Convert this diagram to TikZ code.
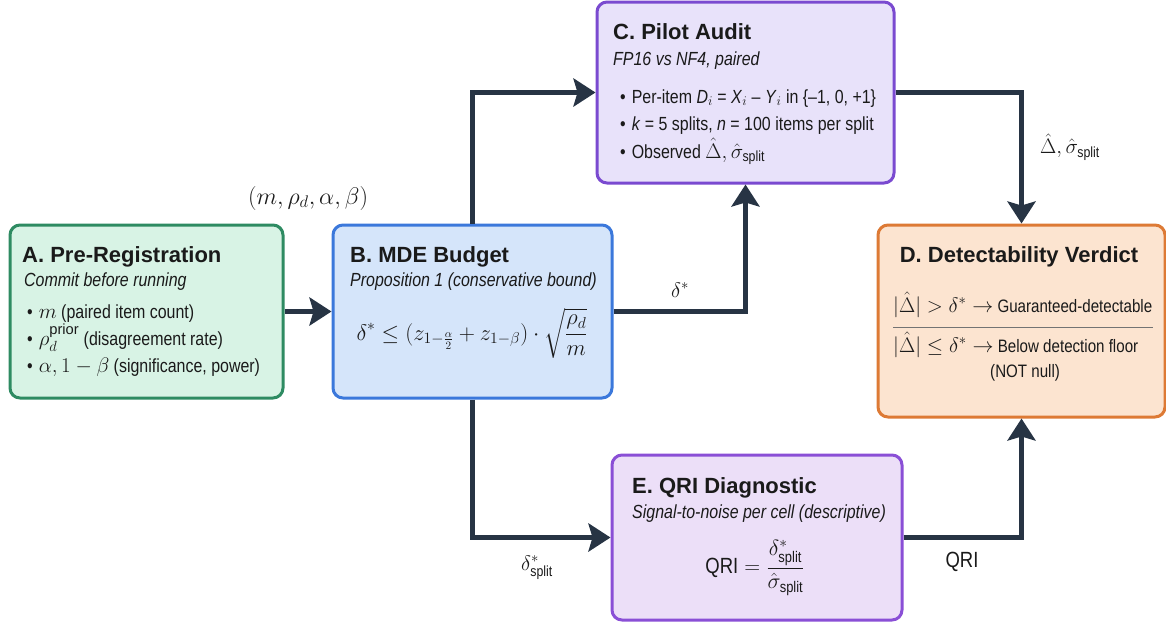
\documentclass[tikz,border=0pt]{standalone}
\usepackage{fix-cm}
\usepackage{amsmath}
\usepackage{fontspec}
\setmainfont{Liberation Sans}
\newfontfamily\narrow[FakeStretch=0.84,Ligatures=TeX]{Liberation Sans}
\usetikzlibrary{arrows.meta}
\definecolor{aline}{HTML}{2E8B62}
\definecolor{afill}{HTML}{D8F3E5}
\definecolor{bline}{HTML}{3B78DB}
\definecolor{bfill}{HTML}{D5E5FA}
\definecolor{cline}{HTML}{7A4AD0}
\definecolor{cfill}{HTML}{E8E2FA}
\definecolor{dline}{HTML}{DD7A35}
\definecolor{dfill}{HTML}{FCE4D0}
\definecolor{eline}{HTML}{8A4FD6}
\definecolor{efill}{HTML}{ECDFF8}
\definecolor{arrowc}{HTML}{273444}
\definecolor{txt}{HTML}{1A1A1A}
\newcommand\mth[1]{{\fontsize{21pt}{25pt}\selectfont$#1$}}
\begin{document}
\begin{tikzpicture}[x=1pt,y=-1pt,
  box/.style={draw, line width=3pt, rounded corners=10pt, inner sep=0pt},
  ttl/.style={anchor=base west, inner sep=0pt, text=txt, font=\fontsize{22pt}{26pt}\selectfont\bfseries},
  subt/.style={anchor=base west, inner sep=0pt, text=txt, font=\narrow\fontsize{19pt}{22pt}\selectfont\itshape},
  body/.style={anchor=base west, inner sep=0pt, text=txt, font=\narrow\fontsize{19pt}{22pt}\selectfont},
  lbl/.style={inner sep=0pt, text=txt, font=\narrow\fontsize{19pt}{22pt}\selectfont},
  flow/.style={line width=5pt, draw=arrowc, -{Stealth[length=22pt,width=28pt,inset=4pt]}}]
\useasboundingbox (0,0) rectangle (1166,625);
% boxes
\node[box, draw=aline, fill=afill, minimum width=273pt, minimum height=173pt] (A) at (146.5,311.5) {};
\node[box, draw=bline, fill=bfill, minimum width=279pt, minimum height=173pt] (B) at (472.5,311.5) {};
\node[box, draw=cline, fill=cfill, minimum width=297pt, minimum height=181pt] (C) at (745.5,92.5) {};
\node[box, draw=dline, fill=dfill, minimum width=287pt, minimum height=192pt] (D) at (1021.5,321) {};
\node[box, draw=eline, fill=efill, minimum width=290pt, minimum height=165pt] (E) at (757,537.5) {};
% A text
\node[ttl] (At) at (22,262) {A. Pre-Registration};
\node[subt] (As) at (24,286) {Commit before running};
\node[body] (A1) at (27,318) {\textbullet\hspace{6pt}\mth{m} (paired item count)};
\node[body] (A2) at (27,345) {\textbullet\hspace{6pt}\mth{\rho_d^{\mathrm{prior}}} (disagreement rate)};
\node[body] (A3) at (27,372) {\textbullet\hspace{6pt}\mth{\alpha, 1-\beta} (significance, power)};
% B text
\node[ttl] (Bt) at (350,262) {B. MDE Budget};
\node[subt] (Bs) at (350,286) {Proposition 1 (conservative bound)};
\node[lbl] (Bf) at (472,333) {{\fontsize{22.5pt}{27pt}\selectfont$\displaystyle \delta^* \le (z_{1-\frac{\alpha}{2}} + z_{1-\beta})\cdot\sqrt{\frac{\rho_d}{m}}$}};
% C text
\node[ttl] (Ct) at (613,39) {C. Pilot Audit};
\node[subt] (Cs) at (613,65) {FP16 vs NF4, paired};
\node[body] (C1) at (620,103) {\textbullet\hspace{6pt}Per-item \textit{D}$_i$ = \textit{X}$_i$ – \textit{Y}$_i$ in \{–1, 0, +1\}};
\node[body] (C2) at (620,130) {\textbullet\hspace{6pt}\textit{k} = 5 splits, \textit{n} = 100 items per split};
\node[body] (C3) at (620,158) {\textbullet\hspace{6pt}Observed \mth{\hat\Delta, \hat\sigma_{\text{split}}}};
% D text
\node[ttl, anchor=base] (Dt) at (1019,262) {D. Detectability Verdict};
\node[body, font=\narrow\fontsize{18pt}{22pt}\selectfont] (D1) at (893,312) {\mth{|\hat\Delta| > \delta^* \rightarrow} Guaranteed-detectable};
\draw[draw=black!55, line width=1pt] (893,327) -- (1153,327);
\node[body, font=\narrow\fontsize{18pt}{22pt}\selectfont] (D2) at (893,352) {\mth{|\hat\Delta| \le \delta^* \rightarrow} Below detection floor};
\node[body, font=\narrow\fontsize{18pt}{22pt}\selectfont] (D3) at (990,377) {(NOT null)};
% E text
\node[ttl] (Et) at (632,493) {E. QRI Diagnostic};
\node[subt] (Es) at (632,518) {Signal-to-noise per cell (descriptive)};
\node[lbl] (Ef) at (755,568) {{\fontsize{22pt}{26pt}\selectfont$\text{QRI} = \dfrac{\delta^*_{\text{split}}}{\hat\sigma_{\text{split}}}$}};
% connectors
\draw[flow] (A.east) -- (B.west);
\draw[flow] (B.north) |- (C.west);
\draw[flow] (B.east) -| (C.south);
\draw[flow] (C.east) -| (D.north);
\draw[flow] (B.south) |- (E.west);
\draw[flow] (E.east) -| (D.south);
% connector labels
\node[lbl] (L1) at (308,198) {{\fontsize{24pt}{28pt}\selectfont$(m, \rho_d, \alpha, \beta)$}};
\node[lbl] (L2) at (680,290) {\mth{\delta^*}};
\node[lbl] (L3) at (1070,147) {\mth{\hat\Delta, \hat\sigma_{\text{split}}}};
\node[lbl] (L4) at (537,568) {\mth{\delta^*_{\text{split}}}};
\node[lbl] (L5) at (962,562) {{\fontsize{22pt}{26pt}\selectfont QRI}};
\end{tikzpicture}
\end{document}
